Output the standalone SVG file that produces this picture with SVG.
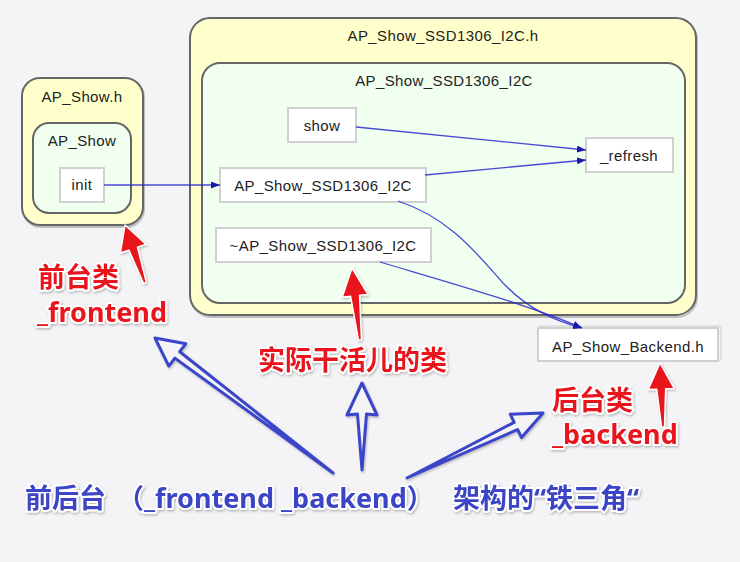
<svg xmlns="http://www.w3.org/2000/svg" width="740" height="562" viewBox="0 0 740 562">
<defs>
<style>
.bg{fill:#f4f4f6}
.file{fill:#ffffcc;stroke:#666;stroke-width:2}
.cls{fill:#f0fff0;stroke:#666;stroke-width:2}
.shadow{fill:none;stroke:#9a9a9a;stroke-width:2;opacity:.6}
.node{fill:#fff;stroke:#d0d0d0;stroke-width:2}
.lbl{font-family:"Liberation Sans",Arial,sans-serif;font-size:15px;letter-spacing:.4px;fill:#222;text-anchor:middle}
.edge{fill:none;stroke:#2a2acc;stroke-width:1.3;stroke-opacity:.85}
.red{font-family:"Noto Sans","Noto Sans CJK SC",sans-serif;font-weight:bold;font-size:27px;fill:#e8161e;stroke:#fff;stroke-width:4;stroke-linejoin:round;paint-order:stroke}
.blue{font-family:"Noto Sans","Noto Sans CJK SC",sans-serif;font-weight:bold;font-size:27px;fill:#3a44c6;stroke:#fff;stroke-width:4;stroke-linejoin:round;paint-order:stroke}
.rarrow{fill:#e8161e;stroke:#fff;stroke-width:1.5;stroke-linejoin:round}
.barrow{fill:#f4f4f6;stroke:#3a44c8;stroke-width:3;stroke-linejoin:round}
</style>
<marker id="ah" markerUnits="userSpaceOnUse" markerWidth="9" markerHeight="7" refX="9" refY="3.5" orient="auto">
<path d="M0,0 L9,3.5 L0,7 z" fill="#1a1aaa"/>
</marker>
<filter id="sh" x="-10%" y="-10%" width="120%" height="130%">
<feDropShadow dx="1" dy="1.5" stdDeviation="0.8" flood-color="#000" flood-opacity="0.25"/>
</filter>
</defs>
<rect class="bg" x="0" y="0" width="740" height="562"/>

<g id="file-ap-show-h">
<rect class="shadow" x="23" y="80" width="121" height="147" rx="18"/>
<rect class="file" x="22" y="78" width="121" height="147" rx="18"/>
<text class="lbl" x="82" y="102">AP_Show.h</text>
</g>
<g id="class-ap-show">
<rect class="cls" x="33" y="123" width="98" height="90" rx="16"/>
<text class="lbl" x="82" y="146">AP_Show</text>
</g>
<g id="node-init">
<rect class="node" x="60" y="168" width="44" height="34"/>
<text class="lbl" x="82" y="190">init</text>
</g>

<g id="file-ssd1306-h">
<rect class="shadow" x="191" y="20" width="506" height="297" rx="20"/>
<rect class="file" x="190" y="18" width="506" height="297" rx="20"/>
<text class="lbl" x="443" y="41">AP_Show_SSD1306_I2C.h</text>
</g>
<g id="class-ssd1306">
<rect class="cls" x="202" y="63" width="483" height="240" rx="18"/>
<text class="lbl" x="444" y="86">AP_Show_SSD1306_I2C</text>
</g>
<g id="node-show">
<rect class="node" x="288" y="108" width="68" height="34"/>
<text class="lbl" x="322" y="131">show</text>
</g>
<g id="node-refresh">
<rect class="node" x="586" y="138" width="87" height="34"/>
<text class="lbl" x="629" y="161">_refresh</text>
</g>
<g id="node-ctor">
<rect class="node" x="220" y="168" width="206" height="34"/>
<text class="lbl" x="323" y="191">AP_Show_SSD1306_I2C</text>
</g>
<g id="node-dtor">
<rect class="node" x="216" y="228" width="215" height="34"/>
<text class="lbl" x="323" y="251">~AP_Show_SSD1306_I2C</text>
</g>
<g id="node-backend">
<rect x="540" y="326" width="181" height="34" fill="none" stroke="#d4d4d4" stroke-width="1.2"/>
<rect class="node" x="538" y="328" width="180" height="33"/>
<text class="lbl" x="628" y="352">AP_Show_Backend.h</text>
</g>

<g id="connectors">
<path class="edge" d="M104,185 L220,185" marker-end="url(#ah)"/>
<path class="edge" d="M356,127 L586,150" marker-end="url(#ah)"/>
<path class="edge" d="M425,175 L586,160" marker-end="url(#ah)"/>
<path class="edge" d="M398,201 C450,218 478,255 503,283 C527,308 552,320 582,328" marker-end="url(#ah)"/>
<path class="edge" d="M380,262 C440,280 530,305 582,328" marker-end="url(#ah)"/>
</g>

<g id="annotations" filter="url(#sh)">
<polygon class="rarrow" points="125,225 146,244.2 137.5,247.1 146.4,282.5 143.6,283.5 128.9,250.1 120.4,253"/>
<polygon class="rarrow" points="352,268 368,294.4 359.6,295.3 361.5,339.8 358.5,340.2 350.6,296.3 342.2,297.2"/>
<polygon class="rarrow" points="660,363 674.2,388.4 665.7,388.8 664.5,426.9 661.5,427.1 656.7,389.2 648.2,389.6"/>
<polygon class="barrow" points="155,338 185.8,343.7 179.7,351.7 333,473 174.9,358.1 168.8,366.1"/>
<polygon class="barrow" points="362,383 377,415 366.5,414 362,470 357.5,414 347,415"/>
<polygon class="barrow" points="543,413 521.5,437.6 517.6,429.5 407,478 514.2,422.3 510.3,414.2"/>
<text class="red" x="38" y="287">前台类</text>
<text class="red" x="37" y="322">_frontend</text>
<text class="red" x="258" y="370">实际干活儿的类</text>
<text class="red" x="552" y="410">后台类</text>
<text class="red" x="552" y="444">_backend</text>
<text class="blue" y="508"><tspan x="25">前后台</tspan><tspan x="117">（_frontend _backend）</tspan><tspan x="453">架构的“铁三角“</tspan></text>
</g>
</svg>
